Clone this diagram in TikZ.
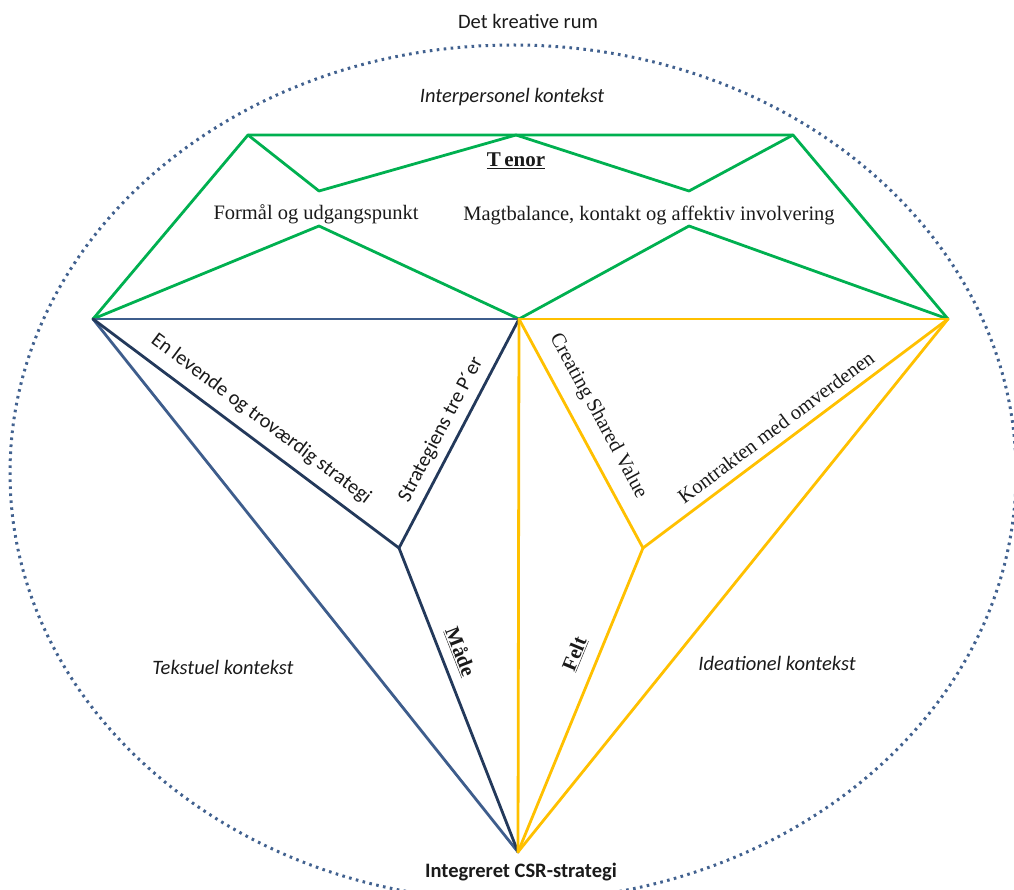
\documentclass[tikz,border=0pt]{standalone}
\usepackage{fontspec}
\setmainfont{Liberation Serif}
\newfontfamily\calibri{Carlito}
\definecolor{tenorgreen}{HTML}{00B050}
\definecolor{madenavy}{HTML}{23395B}
\definecolor{madeblue}{HTML}{3E5D8C}
\definecolor{feltgold}{HTML}{FFC000}
\definecolor{roomdots}{HTML}{41618F}
\definecolor{labelink}{HTML}{1A1A1A}

\begin{document}
\begin{tikzpicture}[x=1pt,y=-1pt,
  edge/.style={line width=2.8pt, line join=round, line cap=round},
  tenorline/.style={edge, draw=tenorgreen},
  navyline/.style={edge, draw=madenavy},
  blueline/.style={edge, draw=madeblue},
  goldline/.style={edge, draw=feltgold},
  serif/.style={inner sep=0pt, text=labelink, font=\fontsize{20.5}{24}\selectfont},
  sans/.style={inner sep=0pt, text=labelink, font=\calibri\fontsize{20.5}{24}\selectfont},
  sansit/.style={inner sep=0pt, text=labelink, font=\calibri\itshape\fontsize{20.5}{24}\selectfont}
]
\useasboundingbox (0,0) rectangle (1014,890);
\clip (0,0) rectangle (1014,890);

% the creative room
\draw[roomdots, line width=3pt, dash pattern=on 2.6pt off 4.4pt]
  (513,473) ellipse [x radius=503, y radius=428];

% vertices of the diamond
\coordinate (TL) at (248,135);
\coordinate (TM) at (516,135);
\coordinate (TR) at (793,135);
\coordinate (VL) at (319,191);
\coordinate (VR) at (689,191);
\coordinate (PL) at (319,226);
\coordinate (PR) at (689,226);
\coordinate (L)  at (93,319);
\coordinate (M)  at (519,319);
\coordinate (R)  at (948,319);
\coordinate (J)  at (399,548);
\coordinate (K)  at (643,548);
\coordinate (B)  at (518,852);

% Tenor (crown)
\draw[tenorline] (L) -- (TL) -- (TR) -- (R);
\draw[tenorline] (TL) -- (VL) -- (TM) -- (VR) -- (TR);
\draw[tenorline] (L) -- (PL) -- (M) -- (PR) -- (R);

% Maade (left facet)
\draw[blueline] (L) -- (M);
\draw[blueline] (L) -- (B);
\draw[navyline] (L) -- (J) -- (M);
\draw[navyline] (J) -- (B);

% Felt (right facet)
\draw[goldline] (M) -- (R);
\draw[goldline] (M) -- (B);
\draw[goldline] (R) -- (B);
\draw[goldline] (M) -- (K) -- (R);
\draw[goldline] (K) -- (B);

% labels
\node[sans] (room) at (528,21) {Det kreative rum};
\node[sansit] (interp) at (512,97) {Interpersonel kontekst};
\node[serif, font=\bfseries\fontsize{21}{24}\selectfont] (tenor) at (516,161) {\underline{T\,enor}};
\node[serif] (formaal) at (316,214) {Formål og udgangspunkt};
\node[serif] (magt) at (649,215) {Magtbalance, kontakt og affektiv involvering};

\node[sans, rotate=-36.8] (levende) at (261,419) {En levende og troværdig strategi};
\node[sans, rotate=62.3] (treP) at (441,430) {Strategiens tre P´er};
\node[serif, rotate=-61.6] (csv) at (598,416) {Creating Shared Value};
\node[serif, rotate=36.8] (kontrakt) at (776,427) {Kontrakten med omverdenen};

\node[serif, rotate=-68.6, font=\bfseries\fontsize{20.5}{24}\selectfont] (maade) at (460,652) {\underline{Måde}};
\node[serif, rotate=67.6, font=\bfseries\fontsize{20.5}{24}\selectfont] (felt) at (575,654) {\underline{Felt}};

\node[sansit] (tekst) at (223,667) {Tekstuel kontekst};
\node[sansit] (ideat) at (777,663) {Ideationel kontekst};
\node[sans, font=\calibri\bfseries\fontsize{20.5}{24}\selectfont] (csr) at (521,872) {Integreret CSR-strategi};
\end{tikzpicture}
\end{document}
